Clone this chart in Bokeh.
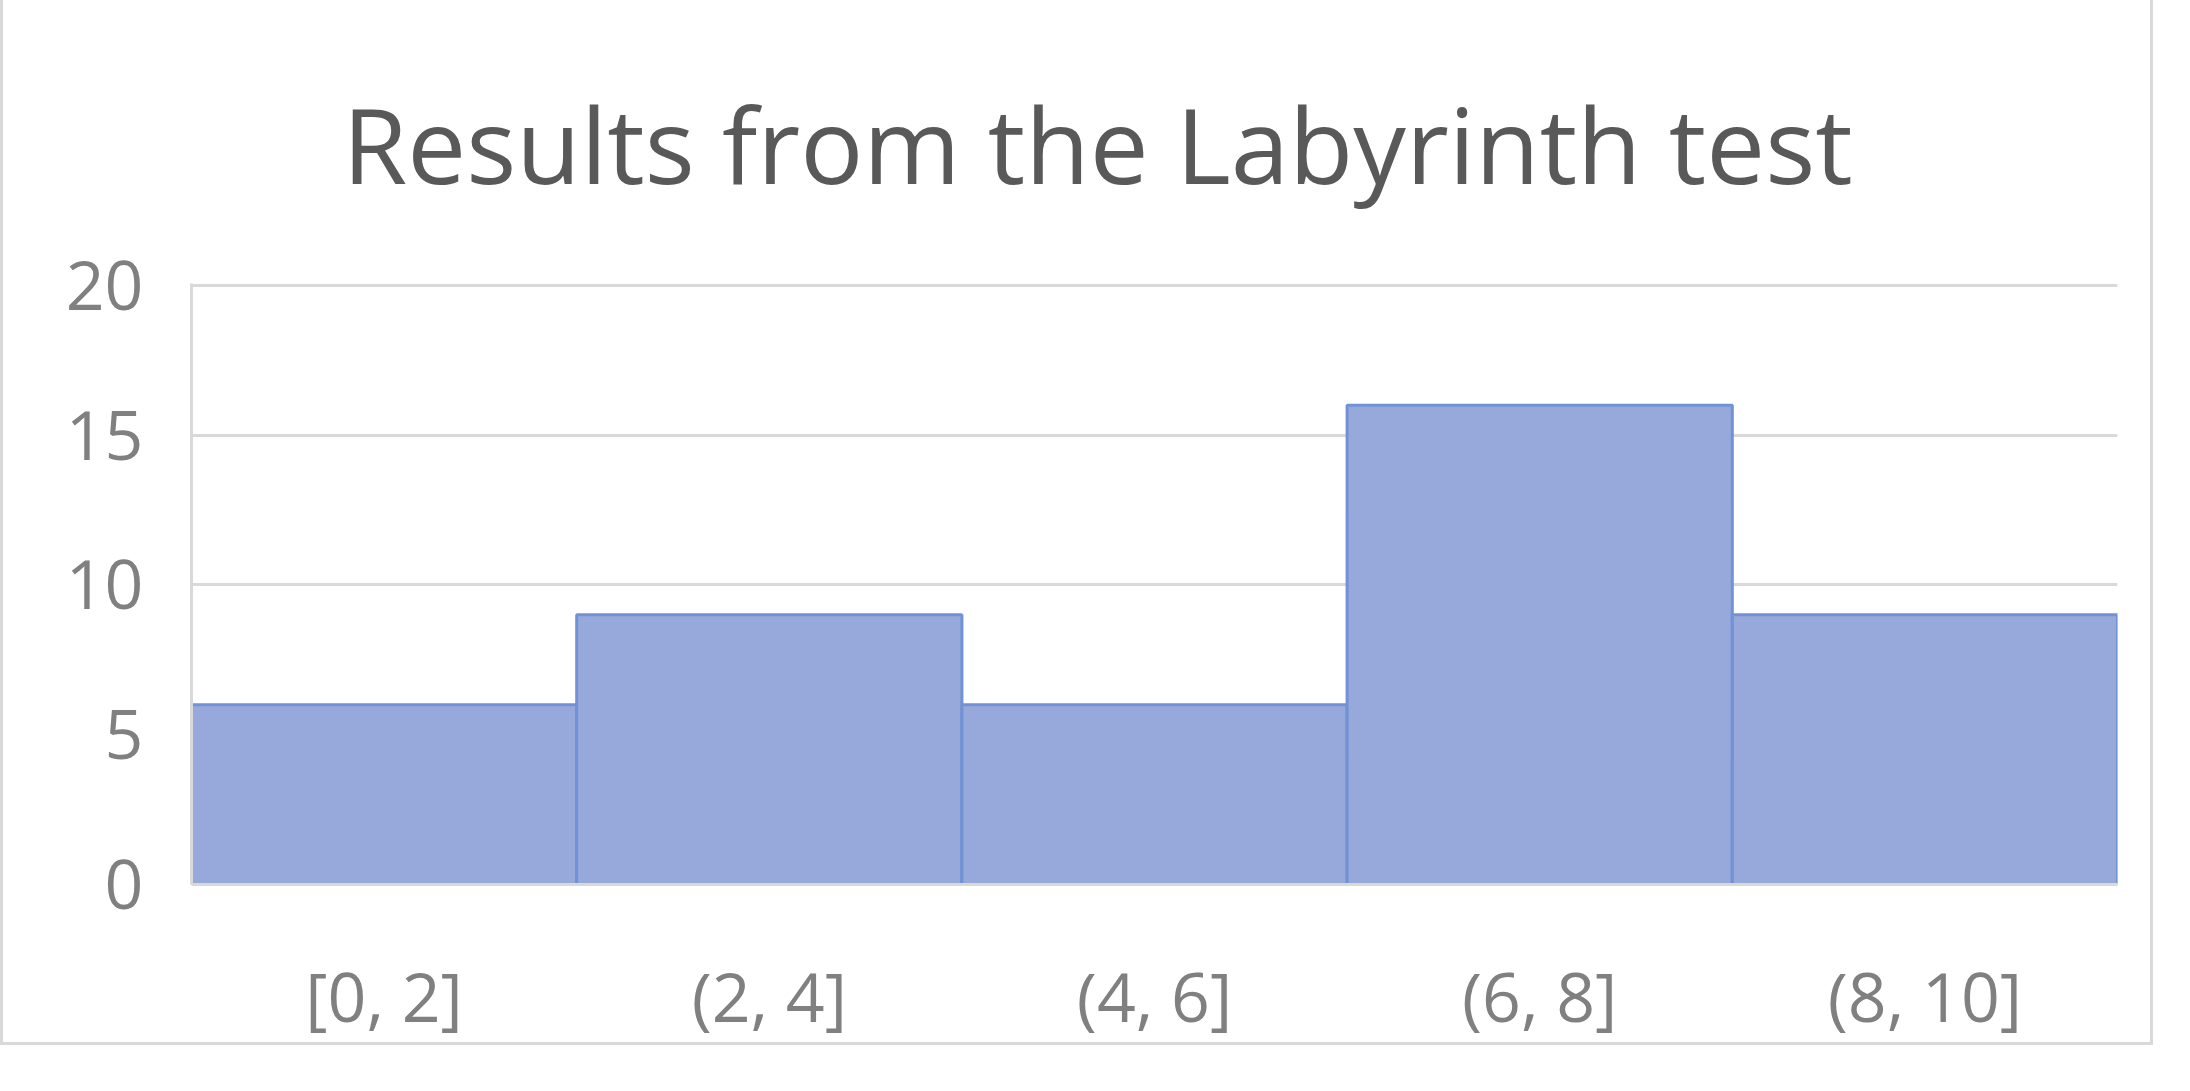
from bokeh.plotting import figure
from bokeh.embed import file_html
from bokeh.resources import INLINE
from bokeh.models import FixedTicker, ColumnDataSource

# data
bins = ["[0, 2]", "(2, 4]", "(4, 6]", "(6, 8]", "(8, 10]"]
counts = [6, 9, 6, 16, 9]
y_ticks = [0, 5, 10, 15, 20]
title_text = "Results from the Labyrinth test"

FONT = "Open Sans"
GRID = "#D9D9D9"
LABEL = "#808080"

src = ColumnDataSource(data=dict(bins=bins, counts=counts))

p = figure(
    x_range=bins, y_range=(0, 20.06),
    width=2153, height=1045,
    output_backend="svg", toolbar_location=None,
    min_border_left=188, min_border_right=39,
    min_border_top=265, min_border_bottom=161,
    title=title_text,
)
p.styles = {
    "border-left": "3px solid #D9D9D9",
    "border-right": "3px solid #D9D9D9",
    "border-bottom": "3px solid #D9D9D9",
}
p.outline_line_color = None
p.background_fill_color = "white"
p.border_fill_color = "white"

p.title.text_font = FONT
p.title.text_font_size = "105px"
p.title.text_font_style = "normal"
p.title.text_color = "#595959"
p.title.text_line_height = 0.8
p.title.align = "left"
p.title.offset = 151
p.title.standoff = 138

p.vbar(x="bins", top="counts", width=1.0, source=src,
       fill_color="#97A9DB", line_color="#7192D4", line_width=3)

p.yaxis.ticker = FixedTicker(ticks=y_ticks)
p.ygrid.ticker = FixedTicker(ticks=y_ticks)
p.ygrid.grid_line_color = GRID
p.ygrid.grid_line_width = 3
p.xgrid.grid_line_color = None

for ax in (p.xaxis[0], p.yaxis[0]):
    ax.axis_line_color = GRID
    ax.axis_line_width = 3
    ax.major_tick_line_color = None
    ax.minor_tick_line_color = None
    ax.major_label_text_font = FONT
    ax.major_label_text_font_size = "68px"
    ax.major_label_text_color = LABEL

p.yaxis.major_label_standoff = 42
p.xaxis.major_label_standoff = 58

open("out.html", "w").write(file_html(p, INLINE))
